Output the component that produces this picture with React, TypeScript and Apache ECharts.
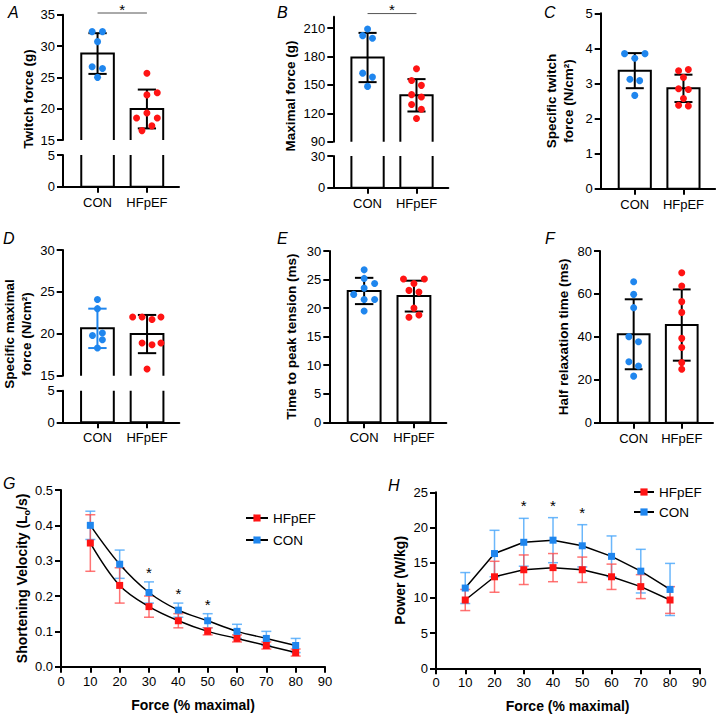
import React, { useEffect, useRef } from "react";
import * as echarts from "echarts";

const groups = ["CON", "HFpEF"];

// A: Twitch force (g)
const twitchMean = [28.8, 19.95];
const twitchSD = [3.25, 3.1];
const twitchCon = [32.3, 32.3, 30.7, 26.7, 26.4, 25.0];
const twitchConJitter = [-0.11, 0.1, 0, -0.11, 0.1, 0];
const twitchHf = [25.65, 22.55, 22.2, 19.3, 18.5, 18.5, 17.25, 16.5];
const twitchHfJitter = [0, 0.21, 0, 0, -0.21, 0.21, 0.1, -0.1];
const twitchSigY = 35.27;

// B: Maximal force (g)
const maxMean = [178.9, 139.0];
const maxSD = [26.0, 17.1];
const maxCon = [209, 202, 199.2, 162.4, 158.2, 148.4];
const maxConJitter = [0, -0.1, 0.1, -0.1, 0.1, 0];
const maxHf = [167.0, 154.7, 149.5, 139.7, 137.2, 129.2, 124.3, 114.5];
const maxHfJitter = [0, -0.1, 0.1, -0.1, 0.1, -0.1, 0.1, 0];
const maxUpperTicks = [90, 120, 150, 180, 210];
const maxSigY = 225.3;

// C: Specific twitch force (N/cm2)
const sTwitchMean = [3.365, 2.86];
const sTwitchSD = [0.5, 0.39];
const sTwitchCon = [3.85, 3.85, 3.72, 3.12, 3.08, 2.66];
const sTwitchConJitter = [-0.21, 0.21, 0, -0.1, 0.1, 0];
const sTwitchHf = [3.4, 3.36, 3.17, 2.85, 2.83, 2.57, 2.38, 2.36];
const sTwitchHfJitter = [0.1, -0.1, 0, -0.1, 0.1, 0, -0.1, 0.1];

// D: Specific maximal force (N/cm2)
const sMaxMean = [20.65, 19.97];
const sMaxSD = [2.35, 2.28];
const sMaxCon = [24.1, 23.0, 19.8, 20.1, 19.3, 18.3];
const sMaxConJitter = [0, 0, -0.1, 0.1, 0.1, 0];
const sMaxHf = [22.0, 22.0, 21.7, 22.0, 18.9, 18.7, 18.9, 15.8];
const sMaxHfJitter = [-0.29, -0.1, 0.1, 0.28, -0.1, 0.1, 0.28, 0];

// E: Time to peak tension (ms)
const ttpMean = [23.0, 22.1];
const ttpSD = [2.3, 2.7];
const ttpCon = [26.7, 25.2, 24.3, 23.5, 22.4, 21.5, 21.5, 19.5];
const ttpConJitter = [0, 0, 0.21, 0, -0.21, 0, 0.21, 0];
const ttpHf = [25.1, 25.1, 24.3, 23.1, 22.8, 20.0, 18.8, 18.4];
const ttpHfJitter = [-0.21, 0.21, 0, -0.1, 0.1, 0, 0.1, -0.1];

// F: Half relaxation time (ms)
const hrtMean = [41.2, 45.5];
const hrtSD = [16.3, 16.6];
const hrtCon = [65.7, 59.8, 53.6, 40.1, 37.7, 28.4, 26.4, 21.7];
const hrtConJitter = [0, 0, 0, -0.1, 0.1, -0.1, 0.1, 0];
const hrtHf = [69.9, 63.7, 56.4, 51.4, 39.3, 35.0, 28.0, 24.9];
const hrtHfJitter = [0, 0, 0, 0, 0, 0, 0, 0];

// G: Shortening velocity
const forcePct = [10, 20, 30, 40, 50, 60, 70, 80];
const velHf = [0.35, 0.23, 0.17, 0.13, 0.1, 0.08, 0.06, 0.04];
const velHfSD = [0.08, 0.05, 0.03, 0.02, 0.01, 0.01, 0.01, 0.01];
const velCon = [0.4, 0.29, 0.21, 0.16, 0.13, 0.1, 0.08, 0.06];
const velConSD = [0.04, 0.04, 0.03, 0.02, 0.02, 0.02, 0.02, 0.02];
const sigX = [30, 40, 50];
const velSigY = [0.275, 0.215, 0.185];

// H: Power
const powHf = [9.7, 13.0, 14.0, 14.3, 14.0, 13.0, 11.6, 9.7];
const powHfSD = [1.5, 2.2, 2.1, 2.0, 1.8, 1.8, 1.7, 1.9];
const powCon = [11.4, 16.3, 17.9, 18.2, 17.4, 15.9, 13.8, 11.2];
const powConSD = [2.2, 3.3, 3.4, 3.2, 3.0, 2.9, 3.1, 3.7];
const powSigY = [23.5, 23.6, 22.6];

const FONT = "'Liberation Sans', Arial, Helvetica, sans-serif";
const BLUE = "#1f86ee";
const RED = "#ff1414";
const BLUE_ERR = "rgba(70,165,250,0.8)";
const RED_ERR = "rgba(255,80,80,0.8)";
const BAR_W = 0.66;
const CAP_W = 0.37;
const X_MIN = -0.7;
const X_MAX = 1.65;

const GRIDS = [
  { left: 63, top: 14.7, width: 116, height: 125.3 }, // 0 A upper
  { left: 63, top: 155, width: 116, height: 31.7 }, // 1 A lower
  { left: 333.3, top: 16.7, width: 115, height: 125 }, // 2 B upper
  { left: 333.3, top: 156, width: 115, height: 31.7 }, // 3 B lower
  { left: 600.7, top: 13.3, width: 114.4, height: 175.4 }, // 4 C
  { left: 62.7, top: 250, width: 116.6, height: 125.7 }, // 5 D upper
  { left: 62.7, top: 390.7, width: 116.6, height: 31.6 }, // 6 D lower
  { left: 329.3, top: 251, width: 117, height: 171.3 }, // 7 E
  { left: 600, top: 251, width: 113, height: 171.7 }, // 8 F
  { left: 61, top: 490, width: 264, height: 176.7 }, // 9 G
  { left: 436, top: 492.3, width: 263.3, height: 176 }, // 10 H
];

const axisLineStyle = { color: "#000", width: 2 };

function barX(grid: number, show: boolean) {
  return {
    type: "value",
    gridIndex: grid,
    min: X_MIN,
    max: X_MAX,
    show,
    axisLine: { show: true, onZero: false, lineStyle: axisLineStyle },
    axisTick: { show: true, customValues: [0, 1], length: 6, lineStyle: axisLineStyle },
    axisLabel: {
      customValues: [0, 1],
      formatter: (v: number) => groups[Math.round(v)] ?? "",
      color: "#000",
      fontSize: 13,
      margin: 9,
    },
    splitLine: { show: false },
  };
}

function valY(grid: number, min: number, max: number, interval: number | undefined, extra: any = {}) {
  return {
    type: "value",
    gridIndex: grid,
    min,
    max,
    interval,
    axisLine: { show: true, onZero: false, lineStyle: axisLineStyle },
    axisTick: { show: true, length: 6, lineStyle: axisLineStyle, ...(extra.axisTick || {}) },
    axisLabel: { color: "#000", fontSize: 13, margin: 8, ...(extra.axisLabel || {}) },
    splitLine: { show: false },
    ...(extra.rest || {}),
  };
}

function outlineSeries(means: number[], grid: number) {
  return {
    type: "custom",
    name: "bars" + grid,
    xAxisIndex: grid,
    yAxisIndex: grid,
    clip: true,
    silent: true,
    z: 2,
    data: means.map((m, i) => [i, m]),
    renderItem: (_p: any, api: any) => {
      const x = api.value(0);
      const v = api.value(1);
      const a = api.coord([x - BAR_W / 2, v]);
      const b = api.coord([x + BAR_W / 2, 0]);
      return {
        type: "rect",
        shape: { x: a[0], y: a[1], width: b[0] - a[0], height: b[1] - a[1] },
        style: { fill: "none", stroke: "#000", lineWidth: 2 },
      };
    },
  };
}

function errSeries(means: number[], sds: number[], colors: string[], grid: number) {
  return {
    type: "custom",
    name: "err" + grid,
    xAxisIndex: grid,
    yAxisIndex: grid,
    silent: true,
    z: 3,
    data: means.map((m, i) => [i, m, sds[i]]),
    renderItem: (p: any, api: any) => {
      const x = api.value(0);
      const m = api.value(1);
      const s = api.value(2);
      const t = api.coord([x, m + s]);
      const b = api.coord([x, m - s]);
      const hw = api.size([CAP_W, 0])[0] / 2;
      const st = { stroke: colors[p.dataIndex], lineWidth: 2 };
      return {
        type: "group",
        children: [
          { type: "line", shape: { x1: t[0], y1: t[1], x2: b[0], y2: b[1] }, style: st },
          { type: "line", shape: { x1: t[0] - hw, y1: t[1], x2: t[0] + hw, y2: t[1] }, style: st },
          { type: "line", shape: { x1: b[0] - hw, y1: b[1], x2: b[0] + hw, y2: b[1] }, style: st },
        ],
      };
    },
  };
}

function dotSeries(vals: number[], jit: number[], g: number, color: string, grid: number) {
  return {
    type: "scatter",
    name: "dots" + grid + "-" + g,
    xAxisIndex: grid,
    yAxisIndex: grid,
    symbol: "circle",
    symbolSize: 7,
    silent: true,
    z: 4,
    itemStyle: { color, opacity: 1 },
    data: vals.map((v, i) => [g + jit[i], v]),
  };
}

function sigLine(y: number, grid: number) {
  return {
    type: "custom",
    name: "sig" + grid,
    xAxisIndex: grid,
    yAxisIndex: grid,
    silent: true,
    clip: false,
    z: 5,
    data: [[0, 1, y]],
    renderItem: (_p: any, api: any) => {
      const a = api.coord([api.value(0), api.value(2)]);
      const b = api.coord([api.value(1), api.value(2)]);
      return {
        type: "group",
        children: [
          { type: "line", shape: { x1: a[0], y1: a[1], x2: b[0], y2: b[1] }, style: { stroke: "#555", lineWidth: 1 } },
          {
            type: "text",
            x: (a[0] + b[0]) / 2,
            y: a[1] - 4,
            style: {
              text: "*", fill: "#000", fontSize: 15, fontFamily: FONT,
              align: "center", verticalAlign: "middle", textAlign: "center", textVerticalAlign: "middle",
            },
          },
        ],
      };
    },
  };
}

function lineErr(xs: number[], means: number[], sds: number[], color: string, grid: number, name: string) {
  return {
    type: "custom",
    name,
    xAxisIndex: grid,
    yAxisIndex: grid,
    silent: true,
    z: 3,
    data: xs.map((x, i) => [x, means[i], sds[i]]),
    renderItem: (_p: any, api: any) => {
      const x = api.value(0);
      const m = api.value(1);
      const s = api.value(2);
      const t = api.coord([x, m + s]);
      const b = api.coord([x, m - s]);
      const hw = 5;
      const st = { stroke: color, lineWidth: 1.5 };
      return {
        type: "group",
        children: [
          { type: "line", shape: { x1: t[0], y1: t[1], x2: b[0], y2: b[1] }, style: st },
          { type: "line", shape: { x1: t[0] - hw, y1: t[1], x2: t[0] + hw, y2: t[1] }, style: st },
          { type: "line", shape: { x1: b[0] - hw, y1: b[1], x2: b[0] + hw, y2: b[1] }, style: st },
        ],
      };
    },
  };
}

function starSeries(xs: number[], ys: number[], grid: number) {
  return {
    type: "custom",
    name: "stars" + grid,
    xAxisIndex: grid,
    yAxisIndex: grid,
    silent: true,
    z: 6,
    data: xs.map((x, i) => [x, ys[i]]),
    renderItem: (_p: any, api: any) => {
      const p = api.coord([api.value(0), api.value(1)]);
      return {
        type: "text",
        x: p[0],
        y: p[1] + 3,
        style: {
          text: "*", fill: "#000", fontSize: 15, fontFamily: FONT,
          align: "center", verticalAlign: "middle", textAlign: "center", textVerticalAlign: "middle",
        },
      };
    },
  };
}

function lineSeries(name: string, xs: number[], ys: number[], color: string, grid: number, smooth: number | boolean) {
  return {
    type: "line",
    name,
    xAxisIndex: grid,
    yAxisIndex: grid,
    data: xs.map((x, i) => [x, ys[i]]),
    smooth,
    symbol: "rect",
    symbolSize: 7,
    itemStyle: { color },
    lineStyle: { color: "#000", width: 1.5 },
    silent: true,
    z: 5,
  };
}

function letter(t: string, x: number, y: number) {
  return {
    type: "text",
    left: x,
    top: y,
    style: { text: t, fill: "#000", fontSize: 16, fontStyle: "italic", fontFamily: FONT },
  };
}

function vname(t: string, x: number, y: number) {
  return {
    type: "text",
    x,
    y,
    rotation: Math.PI / 2,
    style: {
      text: t, fill: "#000", fontSize: 13.5, fontWeight: "bold", fontFamily: FONT, lineHeight: 17,
      align: "center", verticalAlign: "middle", textAlign: "center", textVerticalAlign: "middle",
    },
  };
}

const barName = { fontWeight: "bold", fontSize: 13.5, color: "#000", lineHeight: 17, fontFamily: FONT };
const lineName = { fontWeight: "bold", fontSize: 14, color: "#000", fontFamily: FONT };

export default function App() {
  const ref = useRef<HTMLDivElement>(null);
  useEffect(() => {
    if (!ref.current) return;
    const chart = echarts.init(ref.current, undefined, { renderer: "svg" });
    const option: any = {
      animation: false,
      backgroundColor: "#fff",
      textStyle: { fontFamily: FONT },
      grid: GRIDS.map((g) => ({ ...g, containLabel: false, outerBoundsMode: "none" })),
      xAxis: [
        barX(0, false),
        barX(1, true),
        barX(2, false),
        barX(3, true),
        barX(4, true),
        barX(5, false),
        barX(6, true),
        barX(7, true),
        barX(8, true),
        {
          type: "value", gridIndex: 9, min: 0, max: 90, interval: 10,
          axisLine: { show: true, onZero: false, lineStyle: axisLineStyle },
          axisTick: { show: true, length: 6, lineStyle: axisLineStyle },
          axisLabel: { color: "#000", fontSize: 13, margin: 8 },
          splitLine: { show: false },
          name: "Force (% maximal)", nameLocation: "middle", nameGap: 31, nameTextStyle: lineName,
        },
        {
          type: "value", gridIndex: 10, min: 0, max: 90, interval: 10,
          axisLine: { show: true, onZero: false, lineStyle: axisLineStyle },
          axisTick: { show: true, length: 6, lineStyle: axisLineStyle },
          axisLabel: { color: "#000", fontSize: 13, margin: 8 },
          splitLine: { show: false },
          name: "Force (% maximal)", nameLocation: "middle", nameGap: 31, nameTextStyle: lineName,
        },
      ],
      yAxis: [
        valY(0, 15, 35, 5),
        valY(1, 0, 5, 5),
        valY(2, 90, 222, undefined, {
          axisTick: { customValues: maxUpperTicks },
          axisLabel: { customValues: maxUpperTicks },
        }),
        valY(3, 0, 30, 30),
        valY(4, 0, 5, 1, {
          rest: { name: "Specific twitch\nforce (N/cm²)", nameLocation: "middle", nameGap: 24, nameTextStyle: barName },
        }),
        valY(5, 15, 30, 5),
        valY(6, 0, 5, 5),
        valY(7, 0, 30, 5, {
          rest: { name: "Time to peak tension (ms)", nameLocation: "middle", nameGap: 29, nameTextStyle: barName },
        }),
        valY(8, 0, 80, 20, {
          rest: { name: "Half relaxation time (ms)", nameLocation: "middle", nameGap: 28, nameTextStyle: barName },
        }),
        valY(9, 0, 0.5, 0.1, {
          axisLabel: { formatter: (v: number) => v.toFixed(1) },
          rest: {
            name: "Shortening Velocity (L{sub|o}/s)",
            nameLocation: "middle",
            nameGap: 30,
            nameTextStyle: {
              ...lineName,
              lineHeight: 18,
              rich: { sub: { fontSize: 9, fontWeight: "bold", lineHeight: 9, verticalAlign: "bottom", fontFamily: FONT } },
            },
          },
        }),
        valY(10, 0, 25, 5, {
          rest: { name: "Power (W/kg)", nameLocation: "middle", nameGap: 29, nameTextStyle: lineName },
        }),
      ],
      legend: [
        {
          data: ["HFpEF", "CON"],
          orient: "vertical",
          left: 245,
          top: 511,
          padding: 0,
          itemWidth: 22,
          itemHeight: 9,
          itemGap: 8,
          selectedMode: false,
          textStyle: { fontSize: 13.5, color: "#000", fontFamily: FONT },
        },
        {
          data: ["HFpEF", "CON"],
          orient: "vertical",
          left: 633,
          top: 485,
          padding: 0,
          itemWidth: 20,
          itemHeight: 9,
          itemGap: 6,
          selectedMode: false,
          textStyle: { fontSize: 13.5, color: "#000", fontFamily: FONT },
        },
      ],
      graphic: [
        letter("A", 8, 4),
        letter("B", 277, 4),
        letter("C", 544, 4),
        letter("D", 3, 230),
        letter("E", 277, 230),
        letter("F", 545, 230),
        letter("G", 3, 475),
        letter("H", 388, 477),
        vname("Twitch force (g)", 28, 99),
        vname("Maximal force (g)", 290, 96),
        vname("Specific maximal\nforce (N/cm²)", 18, 334),
      ],
      series: [
        // A
        outlineSeries(twitchMean, 0),
        outlineSeries(twitchMean, 1),
        errSeries(twitchMean, twitchSD, ["#000", "#000"], 0),
        dotSeries(twitchCon, twitchConJitter, 0, BLUE, 0),
        dotSeries(twitchHf, twitchHfJitter, 1, RED, 0),
        sigLine(twitchSigY, 0),
        // B
        outlineSeries(maxMean, 2),
        outlineSeries(maxMean, 3),
        errSeries(maxMean, maxSD, ["#000", "#000"], 2),
        dotSeries(maxCon, maxConJitter, 0, BLUE, 2),
        dotSeries(maxHf, maxHfJitter, 1, RED, 2),
        sigLine(maxSigY, 2),
        // C
        outlineSeries(sTwitchMean, 4),
        errSeries(sTwitchMean, sTwitchSD, ["#000", "#000"], 4),
        dotSeries(sTwitchCon, sTwitchConJitter, 0, BLUE, 4),
        dotSeries(sTwitchHf, sTwitchHfJitter, 1, RED, 4),
        // D
        outlineSeries(sMaxMean, 5),
        outlineSeries(sMaxMean, 6),
        errSeries(sMaxMean, sMaxSD, [BLUE, "#000"], 5),
        dotSeries(sMaxCon, sMaxConJitter, 0, BLUE, 5),
        dotSeries(sMaxHf, sMaxHfJitter, 1, RED, 5),
        // E
        outlineSeries(ttpMean, 7),
        errSeries(ttpMean, ttpSD, ["#000", "#000"], 7),
        dotSeries(ttpCon, ttpConJitter, 0, BLUE, 7),
        dotSeries(ttpHf, ttpHfJitter, 1, RED, 7),
        // F
        outlineSeries(hrtMean, 8),
        errSeries(hrtMean, hrtSD, ["#000", "#000"], 8),
        dotSeries(hrtCon, hrtConJitter, 0, BLUE, 8),
        dotSeries(hrtHf, hrtHfJitter, 1, RED, 8),
        // G
        lineErr(forcePct, velCon, velConSD, BLUE_ERR, 9, "G-CON-sd"),
        lineErr(forcePct, velHf, velHfSD, RED_ERR, 9, "G-HFpEF-sd"),
        lineSeries("HFpEF", forcePct, velHf, RED, 9, 0.35),
        lineSeries("CON", forcePct, velCon, BLUE, 9, 0.35),
        starSeries(sigX, velSigY, 9),
        // H
        lineErr(forcePct, powCon, powConSD, BLUE_ERR, 10, "H-CON-sd"),
        lineErr(forcePct, powHf, powHfSD, RED_ERR, 10, "H-HFpEF-sd"),
        lineSeries("HFpEF", forcePct, powHf, RED, 10, false),
        lineSeries("CON", forcePct, powCon, BLUE, 10, false),
        starSeries(sigX, powSigY, 10),
      ],
    };
    chart.setOption(option);
    return () => chart.dispose();
  }, []);
  return (
    <div
      ref={ref}
      style={{ position: "absolute", left: 0, top: 0, width: 720, height: 716, background: "#fff" }}
    />
  );
}
